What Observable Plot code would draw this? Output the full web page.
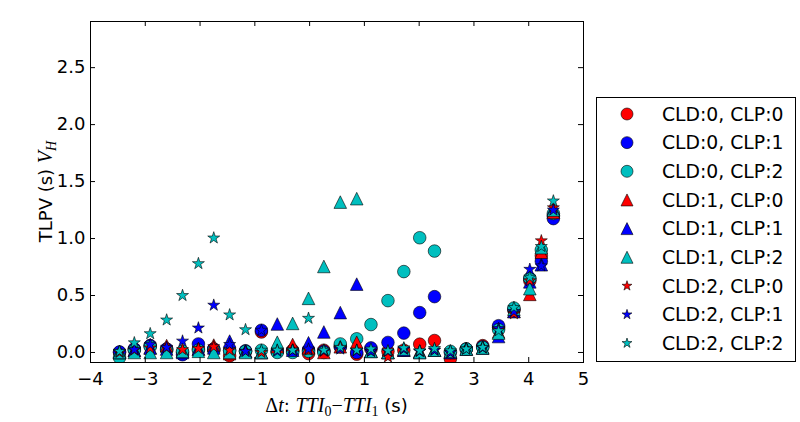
<!DOCTYPE html>
<html><head><meta charset="utf-8">
<script src="https://cdn.jsdelivr.net/npm/d3@7"></script>
<script src="https://cdn.jsdelivr.net/npm/@observablehq/plot@0.6"></script>
<style>body{margin:0;background:#fff;} svg{display:block;}</style>
</head><body><div id="chart"></div>
<script>
// ---- data ----
const xs = [-3.47,-3.20,-2.91,-2.61,-2.32,-2.03,-1.75,-1.46,-1.17,-0.88,-0.59,-0.31,-0.02,0.26,0.56,0.86,1.12,1.43,1.72,2.01,2.28,2.57,2.86,3.16,3.45,3.73,4.02,4.23,4.45];
const cld0clp0 = [0.00,0.03,0.06,0.03,0.00,0.03,0.03,-0.03,0.01,0.18,0.01,0.02,-0.01,0.02,0.05,-0.015,0.03,0.01,0.02,0.073,0.105,-0.055,0.03,0.06,0.22,0.37,0.63,0.85,1.20];
const cld0clp1 = [0.005,0.03,0.06,0.03,-0.02,0.075,0.03,0.02,0.015,0.195,0.01,0.01,0.02,0.01,0.05,0.00,0.04,0.088,0.17,0.35,0.49,0.00,0.03,0.05,0.235,0.38,0.65,0.80,1.175];
const cld0clp2 = [-0.045,0.02,0.05,0.02,0.01,0.02,0.02,0.015,0.01,0.02,0.00,0.00,0.01,0.00,0.075,0.12,0.245,0.455,0.71,1.007,0.89,0.01,0.03,0.045,0.20,0.39,0.65,0.90,1.22];
const cld1clp0 = [0.00,0.02,0.04,0.06,0.01,0.03,0.065,-0.01,0.01,0.00,0.05,0.07,0.04,0.00,0.05,0.09,0.01,0.00,0.02,0.01,0.02,0.00,0.03,0.04,0.18,0.36,0.51,0.88,1.23];
const cld1clp1 = [0.00,0.02,0.04,0.03,0.00,0.03,0.04,0.10,0.01,0.00,0.25,0.02,0.085,0.18,0.35,0.60,0.01,0.00,0.02,0.00,0.02,0.00,0.03,0.04,0.14,0.36,0.62,0.77,1.26];
const cld1clp2 = [0.00,0.00,0.00,0.00,0.01,0.01,0.00,0.00,0.00,0.00,0.09,0.255,0.475,0.755,1.32,1.35,0.01,0.00,0.03,0.00,0.02,0.01,0.03,0.04,0.17,0.38,0.56,0.92,1.25];
const cld2clp0 = [0.00,0.02,0.04,0.04,0.025,0.035,0.05,0.02,0.01,0.00,0.02,0.02,0.02,0.01,0.04,0.02,0.01,-0.04,0.03,0.01,0.02,0.00,0.03,0.04,0.20,0.34,0.63,0.98,1.27];
const cld2clp1 = [0.01,0.025,0.07,0.045,0.10,0.215,0.415,0.07,0.01,0.195,0.01,0.02,0.03,0.015,0.03,0.015,0.01,0.01,0.03,0.01,0.02,0.00,0.03,0.04,0.21,0.36,0.73,0.76,1.25];
const cld2clp2 = [0.01,0.085,0.165,0.285,0.50,0.78,1.005,0.33,0.20,0.02,0.02,0.02,0.30,0.02,0.045,0.02,0.03,0.015,0.04,0.015,0.035,0.015,0.03,0.045,0.19,0.395,0.66,0.93,1.33];
const seriesNames = ["CLD:0, CLP:0","CLD:0, CLP:1","CLD:0, CLP:2","CLD:1, CLP:0","CLD:1, CLP:1","CLD:1, CLP:2","CLD:2, CLP:0","CLD:2, CLP:1","CLD:2, CLP:2"];
const xTicks = [-4,-3,-2,-1,0,1,2,3,4,5];
const yTicks = [0,0.5,1.0,1.5,2.0,2.5];
const xDomain = [-4,5];
const yDomain = [-0.088,2.905];

// ---- matplotlib-like symbols ----
const triSym = {draw(ctx,size){const r=Math.sqrt(size/Math.PI);ctx.moveTo(0,-r);ctx.lineTo(r,r);ctx.lineTo(-r,r);ctx.closePath();}};
const starSym = {draw(ctx,size){const r=Math.sqrt(size/Math.PI),ri=r*0.381966;
  for(let i=0;i<10;i++){const a=-Math.PI/2+i*Math.PI/5,rr=i%2?ri:r;const px=rr*Math.cos(a),py=rr*Math.sin(a);i?ctx.lineTo(px,py):ctx.moveTo(px,py);}ctx.closePath();}};
const circSym = d3.symbolCircle;

const RED="#ff0000", BLUE="#0000ff", CYAN="#00bfbf";
const valuesList=[cld0clp0,cld0clp1,cld0clp2,cld1clp0,cld1clp1,cld1clp2,cld2clp0,cld2clp1,cld2clp2];
const colors=[RED,BLUE,CYAN,RED,BLUE,CYAN,RED,BLUE,CYAN];
const symbols=[circSym,circSym,circSym,triSym,triSym,triSym,starSym,starSym,starSym];
const series = seriesNames.map((name,k)=>({name, values:valuesList[k], color:colors[k], symbol:symbols[k]}));

const W=800,H=422,mL=90,mR=217,mT=21,mB=60;
const innerW=W-mL-mR, innerH=H-mT-mB;
const FONT="DejaVu Sans";
const minus = d => d<0 ? "\u2212"+Math.abs(d) : String(d);

const marks=[];
series.forEach(s=>{
  marks.push(Plot.dot(xs.map((x,i)=>({x,y:s.values[i]})),{x:"x",y:"y",r:6.3,symbol:s.symbol,fill:s.color,stroke:"black",strokeWidth:0.6,clip:true}));
});
marks.push(Plot.frame({stroke:"black",strokeWidth:1}));
marks.push(Plot.tickX(xTicks,{x:d=>d,insetTop:innerH-5,stroke:"black"}));
marks.push(Plot.tickX(xTicks,{x:d=>d,insetBottom:innerH-5,stroke:"black"}));
marks.push(Plot.tickY(yTicks,{y:d=>d,insetRight:innerW-5,stroke:"black"}));
marks.push(Plot.tickY(yTicks,{y:d=>d,insetLeft:innerW-5,stroke:"black"}));
marks.push(Plot.axisX({ticks:xTicks,tickSize:0,tickPadding:10,tickFormat:minus,label:null,fontSize:18}));
marks.push(Plot.axisY({ticks:yTicks,tickSize:0,tickPadding:5,tickFormat:d=>d.toFixed(1),label:null,fontSize:18}));

const chart = Plot.plot({
  width:W,height:H,marginLeft:mL,marginRight:mR,marginTop:mT,marginBottom:mB,
  x:{domain:xDomain},y:{domain:yDomain},
  style:{fontFamily:FONT,fontSize:"18px",color:"black",background:"white"},
  marks
});
document.getElementById("chart").appendChild(chart);

const svg=d3.select(chart);
const SERIF="Liberation Serif";
// x label
const xl=svg.append("text").attr("x",mL+innerW/2).attr("y",412).attr("text-anchor","middle")
  .attr("font-size",18).attr("fill","black").attr("font-family",FONT);
xl.append("tspan").attr("font-family",SERIF).attr("font-size",20).text("\u0394");
xl.append("tspan").attr("font-family",SERIF).attr("font-style","italic").attr("font-size",20).text("t");
xl.append("tspan").text(": ");
xl.append("tspan").attr("font-family",SERIF).attr("font-style","italic").attr("font-size",20).text("TTI");
xl.append("tspan").attr("font-family",SERIF).attr("font-size",14).attr("dy",4).text("0");
xl.append("tspan").attr("font-family",SERIF).attr("font-size",20).attr("dy",-4).text("\u2212");
xl.append("tspan").attr("font-family",SERIF).attr("font-style","italic").attr("font-size",20).text("TTI");
xl.append("tspan").attr("font-family",SERIF).attr("font-size",14).attr("dy",4).text("1");
xl.append("tspan").attr("dy",-4).text("\u00a0(s)");
// y label
const yl=svg.append("text").attr("transform",`translate(52,${mT+innerH/2}) rotate(-90)`).attr("text-anchor","middle")
  .attr("font-size",18).attr("fill","black").attr("font-family",FONT);
yl.append("tspan").text("TLPV (s) ");
yl.append("tspan").attr("font-family",SERIF).attr("font-style","italic").attr("font-size",20).text("V");
yl.append("tspan").attr("font-family",SERIF).attr("font-style","italic").attr("font-size",14).attr("dy",4).text("H");

// legend
const lg=svg.append("g");
lg.append("rect").attr("x",596.5).attr("y",97.5).attr("width",199).attr("height",264).attr("fill","white").attr("stroke","black").attr("stroke-width",1);
series.forEach((s,k)=>{
  const cy=114+k*28.65;
  lg.append("path").attr("transform",`translate(627,${cy})`).attr("d",d3.symbol(s.symbol, (k>=6?5.2:6)**2*Math.PI)())
    .attr("fill",s.color).attr("stroke","black").attr("stroke-width",0.6);
  lg.append("text").attr("x",662).attr("y",cy).attr("dy","0.36em").attr("text-anchor","start").attr("font-size",18.8).attr("font-family",FONT).attr("fill","black").text(s.name);
});
</script></body></html>
